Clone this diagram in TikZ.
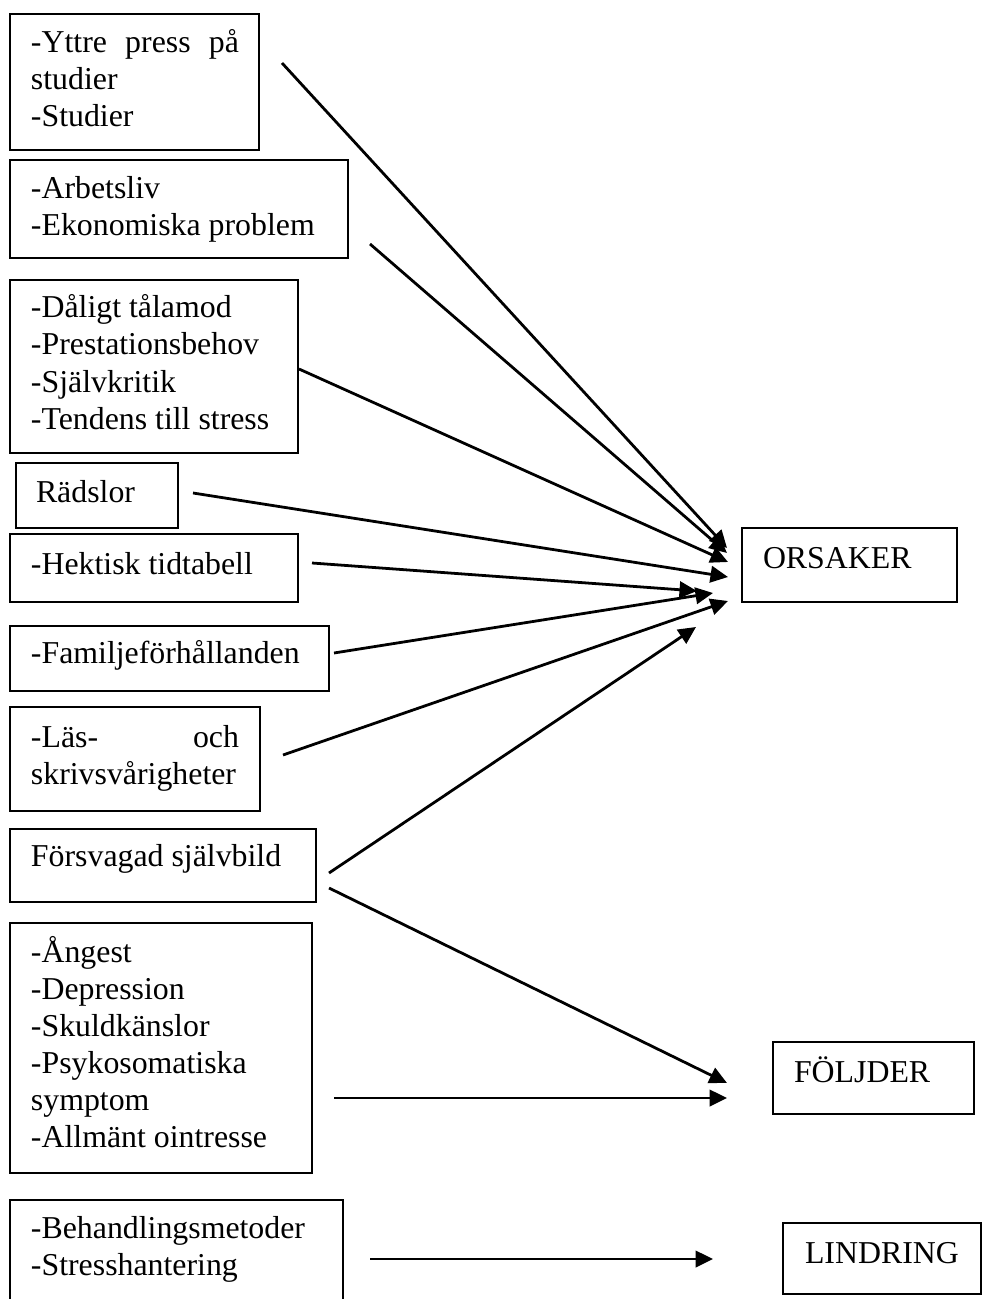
\documentclass[tikz,border=0pt]{standalone}
\usepackage{fontspec}
\setmainfont{Liberation Serif}
\usetikzlibrary{arrows.meta}
\newlength\pxu \setlength\pxu{0.377pt}
% #1 width, #2 height, #3 first baseline offset, #4 left margin, #5 right margin, #6 text
\newcommand\boxin[6]{\parbox[t][#2\pxu][t]{#1\pxu}{\leftskip=#4\pxu\rightskip=#5\pxu plus 1fil\baselineskip=37\pxu\rule{0pt}{#3\pxu}#6}}
\tikzset{
  box/.style={draw, line width=0.8pt, inner sep=0pt, outer sep=0pt, anchor=north west, font=\fontsize{12}{14}\selectfont},
  conn/.style={line width=1.05pt, -{Triangle[length=6.6pt,width=6.2pt]}}
}
\begin{document}
\begin{tikzpicture}[x=0.377pt, y=-0.377pt]
\clip (0,0) rectangle (982,1299);
% left boxes
\node[box] (b1) at (10,14) {\boxin{249}{136}{39}{21}{20}{-Yttre\hfill press\hfill på\\studier\\-Studier}};
\node[box] (b2) at (10,160) {\boxin{338}{98}{39}{21}{0}{-Arbetsliv\\-Ekonomiska problem}};
\node[box] (b3) at (10,280) {\boxin{288}{173}{38}{21}{0}{-Dåligt tålamod\\-Prestationsbehov\\-Självkritik\\-Tendens till stress}};
\node[box] (b4) at (16,463) {\boxin{162}{65}{39}{20}{0}{Rädslor}};
\node[box] (b5) at (10,534) {\boxin{288}{68}{40}{21}{0}{-Hektisk tidtabell}};
\node[box] (b6) at (10,626) {\boxin{319}{65}{37}{21}{0}{-Familjeförhållanden}};
\node[box] (b7) at (10,707) {\boxin{250}{104}{40}{21}{21}{-Läs-\hfill och\\skrivsvårigheter}};
\node[box] (b8) at (10,829) {\boxin{306}{73}{37}{21}{0}{Försvagad självbild}};
\node[box] (b9) at (10,923) {\boxin{302}{250}{39}{21}{0}{-Ångest\\-Depression\\-Skuldkänslor\\-Psykosomatiska\\symptom\\-Allmänt ointresse}};
\node[box] (b10) at (10,1200) {\boxin{333}{110}{38}{21}{0}{-Behandlingsmetoder\\-Stresshantering}};
% right boxes
\node[box] (o) at (742,528) {\boxin{215}{74}{40}{21}{0}{ORSAKER}};
\node[box] (f) at (773,1042) {\boxin{201}{72}{40}{21}{0}{FÖLJDER}};
\node[box] (l) at (783,1223) {\boxin{198}{71}{40}{22}{0}{LINDRING}};
% connector end points
\coordinate (s1) at ([shift={(23,49)}]b1.north east);
\coordinate (e1) at ([shift={(-15,20)}]o.north west);
\coordinate (s2) at ([shift={(22,84)}]b2.north east);
\coordinate (e2) at ([shift={(-15,25)}]o.north west);
\coordinate (s3) at ([shift={(1,89)}]b3.north east);
\coordinate (e3) at ([shift={(-14,34)}]o.north west);
\coordinate (s4) at ([shift={(15,30)}]b4.north east);
\coordinate (e4) at ([shift={(-14,49)}]o.north west);
\coordinate (s5) at ([shift={(14,29)}]b5.north east);
\coordinate (e5) at ([shift={(-45,63)}]o.north west);
\coordinate (s6) at ([shift={(5,27)}]b6.north east);
\coordinate (e6) at ([shift={(-29,65)}]o.north west);
\coordinate (s7) at ([shift={(23,48)}]b7.north east);
\coordinate (e7) at ([shift={(-14,73)}]o.north west);
\coordinate (s8) at ([shift={(13,44)}]b8.north east);
\coordinate (e8) at ([shift={(-46,99)}]o.north west);
\coordinate (s8b) at ([shift={(13,59)}]b8.north east);
\coordinate (e8b) at ([shift={(-46,41)}]f.north west);
\coordinate (s9) at ([shift={(22,175)}]b9.north east);
\coordinate (e9) at ([shift={(-46,56)}]f.north west);
\coordinate (s10) at ([shift={(27,59)}]b10.north east);
\coordinate (e10) at ([shift={(-70,36)}]l.north west);
% connectors
\draw[conn] (s1) -- (e1);
\draw[conn] (s2) -- (e2);
\draw[conn] (s3) -- (e3);
\draw[conn] (s4) -- (e4);
\draw[conn] (s5) -- (e5);
\draw[conn] (s6) -- (e6);
\draw[conn] (s7) -- (e7);
\draw[conn] (s8) -- (e8);
\draw[conn] (s8b) -- (e8b);
\draw[conn] (s9) -- (e9);
\draw[conn] (s10) -- (e10);
\end{tikzpicture}
\end{document}
